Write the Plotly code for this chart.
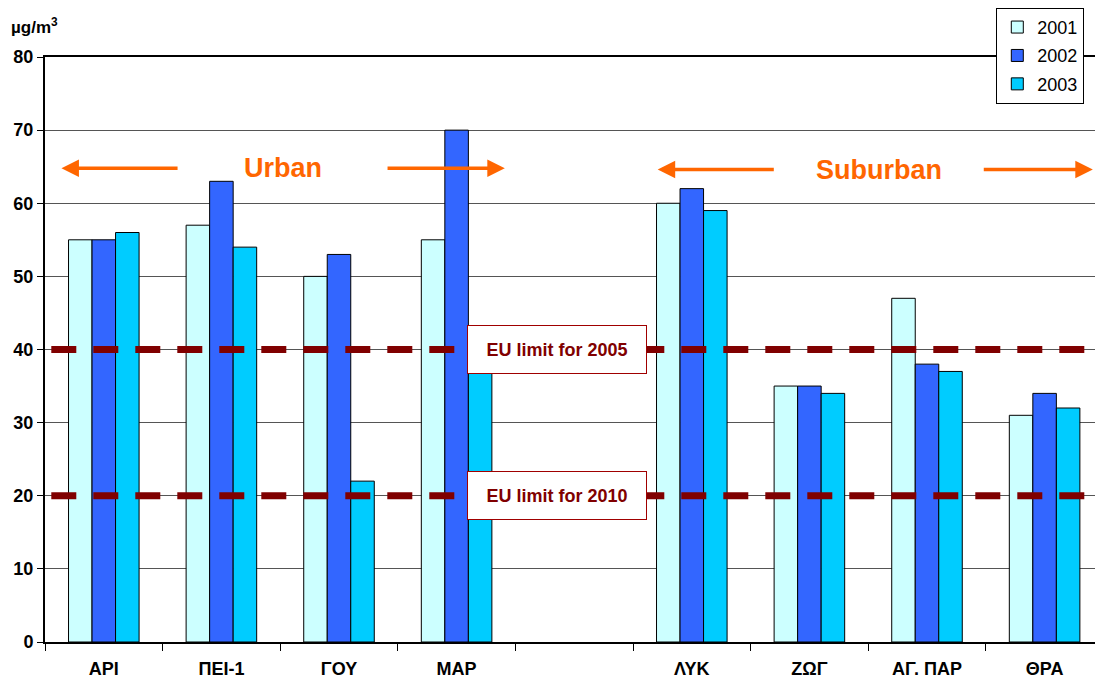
import plotly.graph_objects as go

# ---------------- data ----------------
stations = ["ΑΡΙ", "ΠΕΙ-1", "ΓΟΥ", "ΜΑΡ", "", "ΛΥΚ", "ΖΩΓ", "ΑΓ. ΠΑΡ", "ΘΡΑ"]
years = ["2001", "2002", "2003"]
values_2001 = [55, 57, 50, 55, None, 60, 35, 47, 31]
values_2002 = [55, 63, 53, 70, None, 62, 35, 38, 34]
values_2003 = [56, 54, 22, 39, None, 59, 34, 37, 32]
eu_limits = [40, 20]
eu_limit_labels = ["EU limit for 2005", "EU limit for 2010"]
y_ticks = [0, 10, 20, 30, 40, 50, 60, 70, 80]

# ---------------- styles ----------------
colors = ["#CCFFFF", "#3366FF", "#00CCFF"]
FONT = "Arial, Liberation Sans, sans-serif"
ORANGE = "#FF6600"
DARKRED = "#800000"

x_pos = list(range(len(stations)))
series = [values_2001, values_2002, values_2003]

fig = go.Figure()
for name, vals, col in zip(years, series, colors):
    fig.add_trace(go.Bar(
        x=x_pos, y=vals, name=name, legendgroup=name,
        marker=dict(color=col, line=dict(color="#000000", width=1)),
    ))

shapes = []
for lim in eu_limits:
    shapes.append(dict(
        type="line", xref="paper", yref="y", x0=0.006, x1=1, y0=lim, y1=lim,
        line=dict(color=DARKRED, width=7, dash="25px,17px"), layer="above",
    ))

annotations = []
# limit labels
for lim, lab in zip(eu_limits, eu_limit_labels):
    annotations.append(dict(
        x=3.85, y=lim, xref="x", yref="y", text="<b>" + lab + "</b>",
        showarrow=False, font=dict(family=FONT, size=18, color=DARKRED),
        bgcolor="#FFFFFF", bordercolor="#A00000", borderwidth=1,
        width=176, height=45, align="center",
    ))
# region labels
annotations.append(dict(x=1.52, y=64.8, xref="x", yref="y", text="<b>Urban</b>",
                        showarrow=False, font=dict(family=FONT, size=27, color=ORANGE)))
annotations.append(dict(x=6.59, y=64.6, xref="x", yref="y", text="<b>Suburban</b>",
                        showarrow=False, font=dict(family=FONT, size=27, color=ORANGE)))
# arrows (tip, tail)
arrows = [(-0.36, 0.64, 64.8), (3.41, 2.40, 64.8), (4.71, 5.71, 64.6), (8.41, 7.47, 64.6)]
for tip, tail, yy in arrows:
    annotations.append(dict(
        x=tip, y=yy, ax=tail, ay=yy, xref="x", yref="y", axref="x", ayref="y",
        text="", showarrow=True, arrowhead=2, arrowsize=1.0, arrowwidth=3.5,
        arrowcolor=ORANGE,
    ))
# unit label
annotations.append(dict(x=-0.034, y=1.03, xref="paper", yref="paper",
                        text="<b>µg/m<sup>3</sup></b>", showarrow=False,
                        xanchor="left", yanchor="bottom",
                        font=dict(family=FONT, size=17, color="#000000")))

fig.update_layout(
    width=1095, height=680,
    margin=dict(l=45, r=0, t=57, b=38),
    paper_bgcolor="#FFFFFF", plot_bgcolor="#FFFFFF",
    barmode="group", bargap=0.4, bargroupgap=0,
    font=dict(family=FONT, size=17, color="#000000"),
    showlegend=True,
    legend=dict(
        x=0.906, y=1.084, xanchor="left", yanchor="top",
        bgcolor="#FFFFFF", bordercolor="#000000", borderwidth=1,
        font=dict(family=FONT, size=18, color="#000000"),
        itemwidth=30, tracegroupgap=2,
    ),
    shapes=shapes,
    annotations=annotations,
    xaxis=dict(
        range=[-0.5, -0.5 + 1050 / 117.6],
        tickmode="array", tickvals=x_pos,
        ticktext=["<b>" + s + "</b>" for s in stations],
        ticks="", showgrid=False, zeroline=False,
        showline=True, linecolor="#000000", linewidth=2, mirror=True,
        tickfont=dict(family=FONT, size=18, color="#000000"),
        ticklabelstandoff=9,
        minor=dict(tickmode="linear", tick0=-0.5, dtick=1, ticks="outside",
                   ticklen=7, tickwidth=1, tickcolor="#000000", showgrid=False),
    ),
    yaxis=dict(
        range=[0, 80], tickmode="array", tickvals=y_ticks,
        ticktext=["<b>%d</b>" % v for v in y_ticks],
        ticks="outside", ticklen=6, tickcolor="#000000",
        showgrid=True, gridcolor="#555555", gridwidth=1,
        zeroline=False, showline=True, linecolor="#000000", linewidth=2,
        tickfont=dict(family=FONT, size=18, color="#000000"),
    ),
)

fig.write_html("out.html")
